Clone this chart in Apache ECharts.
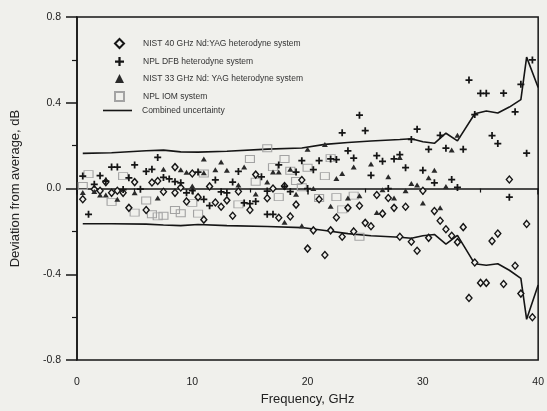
<!DOCTYPE html>
<html>
<head>
<meta charset="utf-8">
<script src="https://cdn.jsdelivr.net/npm/echarts@6/dist/echarts.min.js"></script>
<style>
  html, body { margin: 0; padding: 0; background: #f0f0ec; }
  #chart { width: 547px; height: 411px; }
</style>
</head>
<body>
<div id="chart"></div>
<script>
// NIST 40 GHz Nd:YAG heterodyne system
const nist40Freq = [0.5,1.5,2,2.5,3,3.5,4,4.5,5,6,6.5,7,7.5,8.5,8.5,9,9.5,10,10.5,11,11.5,12,12.5,13,13.5,14,15,15.5,16.5,17,17.5,18,18.5,19,19.5,20,20.5,21,21.5,22,22.5,23,23.5,24,24.5,25,25.5,26,26.5,27,27.5,28,28.5,29,29.5,30,30.5,31,31.5,32,32.5,33,33.5,34,34.5,35,35.5,36,36.5,37,37.5,38,38.5,39,39.5];
const nist40Dev = [-0.05,-0.003,-0.01,0.03,-0.02,-0.01,-0.02,-0.09,0.03,-0.10,0.028,0.035,-0.015,0.10,-0.02,0.005,-0.06,0.07,-0.04,-0.145,0.01,-0.065,-0.085,-0.055,-0.127,-0.014,-0.10,0.065,-0.045,0.0,-0.136,0.012,-0.13,-0.075,0.04,-0.28,-0.195,-0.05,-0.31,-0.195,-0.135,-0.225,-0.09,-0.20,-0.08,-0.16,-0.176,-0.03,-0.117,-0.044,-0.09,-0.225,-0.085,-0.248,-0.29,-0.01,-0.23,-0.105,-0.15,-0.19,-0.22,-0.25,-0.18,-0.51,-0.345,-0.44,-0.44,-0.245,-0.21,-0.445,0.042,-0.36,-0.49,-0.165,-0.60];

// NPL DFB heterodyne system
const dfbFreq = [0.5,1,1.5,2,2.5,3,3.5,4,4.5,5,5.5,6,6.5,7,7.5,8,8.5,9,9.5,10,10.5,11,11.5,12,12.5,13,13.5,14,14.5,15,15.5,16,16.5,16.5,17,17.5,18,18.5,19,19.5,20,20.5,21,22,22.5,23,23.5,24,24.5,25,25.5,26,26.5,27,27.5,28,28.5,29,29.5,30,30.5,31,31.5,32,32.5,33,33.5,34,34.5,35,35.5,36,36.5,37,37.5,38,38.5,39,39.5];
const dfbDev = [0.058,-0.12,0.02,0.06,0.035,0.10,0.10,-0.005,0.05,0.11,-0.003,0.08,0.09,0.145,0.052,0.045,0.032,0.027,-0.02,-0.01,0.077,-0.05,-0.08,0.04,-0.015,-0.02,0.03,0.08,-0.067,-0.07,-0.06,0.055,-0.12,-0.012,-0.12,0.11,0.01,-0.014,0.077,0.13,0.0,0.088,0.13,0.138,0.135,0.26,0.176,0.142,0.342,0.27,0.062,0.153,0.127,0.0,0.138,0.158,0.097,0.229,0.277,0.085,0.183,0.027,0.248,0.188,0.042,0.005,0.183,0.506,0.345,0.444,0.444,0.247,0.21,0.445,-0.04,0.358,0.486,0.165,0.60];

// NIST 33 GHz Nd:YAG heterodyne system
const nist33Freq = [0.5,1.5,2,2.5,3.5,5,7,7.5,9,9.5,10,11,11,12,12.5,13,14,14.5,15.5,16.5,17,17.5,18,18.5,19,19.5,20,20.5,21.5,22,22.5,23,23.5,24,24.5,25.5,26,26.5,27,27.5,28,28.5,29,29.5,30,30.5,31,31.5,32,32.5,33];
const nist33Dev = [-0.018,-0.014,-0.03,-0.03,-0.05,-0.02,-0.044,0.09,0.088,0.076,0.012,0.074,0.138,0.088,0.124,0.085,0.017,0.10,-0.025,0.03,0.077,0.077,-0.157,0.09,-0.026,-0.173,0.183,0.0,0.206,-0.082,0.047,0.07,-0.044,0.10,-0.033,0.115,-0.112,-0.006,0.055,-0.044,0.145,-0.01,0.024,0.017,-0.067,0.05,0.085,-0.09,0.01,0.18,0.248];

// NPL IOM system
const iomFreq = [0.5,1,3,4,5,6,6.5,7,7.5,8.5,9,10,10.5,11,14,15,15.5,16.5,17,17.5,18,18.5,19,19.5,20,21,21.5,22,22.5,23,24,24.5];
const iomDev = [0.012,0.067,-0.062,0.058,-0.112,-0.056,-0.12,-0.13,-0.127,-0.10,-0.115,-0.067,-0.117,0.07,-0.074,0.138,0.032,0.188,0.10,-0.04,0.138,0.083,0.035,0.006,0.097,-0.044,0.058,0.142,-0.04,-0.097,-0.033,-0.225];

// Combined uncertainty envelope
const uncFreq  = [0.5,3,6,7.5,9,10.5,13,16.5,19.5,21.5,23.5,25.5,28,29,30,31,32,33,34.5,35.5,36.5,37.5,38.5,39,40];
const uncUpper = [0.164,0.167,0.176,0.179,0.171,0.170,0.174,0.184,0.189,0.206,0.215,0.222,0.229,0.232,0.218,0.211,0.258,0.222,0.349,0.362,0.352,0.38,0.415,0.613,0.471];
const uncLower = [-0.164,-0.164,-0.166,-0.170,-0.173,-0.168,-0.173,-0.177,-0.182,-0.196,-0.21,-0.22,-0.227,-0.232,-0.22,-0.214,-0.259,-0.218,-0.351,-0.358,-0.351,-0.381,-0.419,-0.61,-0.45];

const names = [
  'NIST 40 GHz Nd:YAG heterodyne system',
  'NPL DFB heterodyne system',
  'NIST 33 GHz Nd: YAG heterodyne system',
  'NPL IOM system',
  'Combined uncertainty'
];

const pairs = (xs, ys) => xs.map((x, i) => [x, ys[i]]);
const ink = '#151515';
const bg = '#f0f0ec';
const font = 'Liberation Sans, Arial, Helvetica, sans-serif';
const plusPath = 'path://M3,0H5V3H8V5H5V8H3V5H0V3H3Z';
const legendText = { fontSize: 8.5, color: '#333', fontFamily: font };

const chart = echarts.init(document.getElementById('chart'), null, { renderer: 'canvas' });

chart.setOption({
  backgroundColor: bg,
  animation: false,
  textStyle: { fontFamily: font },
  grid: {
    left: 77, right: 6, top: 17, bottom: 43,
    show: true, borderColor: ink, borderWidth: 1.5, backgroundColor: 'transparent'
  },
  legend: [
    {
      // marker entries
      orient: 'vertical',
      left: 114, top: 38, padding: 0,
      itemWidth: 9, itemHeight: 9, itemGap: 8,
      textStyle: Object.assign({ padding: [0, 0, 0, 14] }, legendText),
      data: [
        { name: names[0], itemStyle: { borderWidth: 2 } },
        { name: names[1] },
        { name: names[2] },
        { name: names[3] }
      ]
    },
    {
      // envelope entry
      orient: 'vertical',
      left: 103, top: 106, padding: 0,
      itemWidth: 29, itemHeight: 1.6,
      textStyle: Object.assign({ padding: [0, 0, 0, 5] }, legendText),
      data: [{ name: names[4], icon: 'rect' }]
    }
  ],
  xAxis: {
    type: 'value', min: 0, max: 40, interval: 10,
    name: 'Frequency, GHz', nameLocation: 'middle', nameGap: 30,
    nameTextStyle: { fontSize: 13, color: '#222' },
    axisLine: { lineStyle: { color: ink, width: 1.5 } },
    axisTick: { length: 6, lineStyle: { color: ink, width: 1.5 } },
    minorTick: { show: true, splitNumber: 2, length: 4, lineStyle: { color: ink, width: 1.2 } },
    axisLabel: { fontSize: 10.5, color: '#222', margin: 17 },
    splitLine: { show: false }
  },
  yAxis: {
    type: 'value', min: -0.8, max: 0.8, interval: 0.4,
    name: 'Deviation from average, dB', nameLocation: 'middle', nameGap: 55,
    nameTextStyle: { fontSize: 13, color: '#222' },
    axisLine: { lineStyle: { color: ink, width: 1.5 } },
    axisTick: { length: 11, lineStyle: { color: ink, width: 1.5 } },
    minorTick: { show: true, splitNumber: 2, length: 5, lineStyle: { color: ink, width: 1.2 } },
    axisLabel: { fontSize: 10.5, color: '#222', margin: 16, formatter: v => v.toFixed(1) },
    splitLine: { show: false }
  },
  series: [
    {
      name: names[0], type: 'scatter', z: 4,
      symbol: 'diamond', symbolSize: [6, 7],
      itemStyle: { color: bg, borderColor: ink, borderWidth: 1.4, opacity: 1 },
      data: pairs(nist40Freq, nist40Dev)
    },
    {
      name: names[1], type: 'scatter', z: 4,
      symbol: plusPath, symbolSize: 7,
      itemStyle: { color: ink, opacity: 1 },
      data: pairs(dfbFreq, dfbDev)
    },
    {
      name: names[2], type: 'scatter', z: 4,
      symbol: 'triangle', symbolSize: [6, 5],
      itemStyle: { color: '#2a2a2a', opacity: 1 },
      data: pairs(nist33Freq, nist33Dev)
    },
    {
      name: names[3], type: 'scatter', z: 3,
      symbol: 'rect', symbolSize: [9, 7],
      itemStyle: { color: 'rgba(0,0,0,0)', borderColor: '#a3a3a3', borderWidth: 1, opacity: 1 },
      data: pairs(iomFreq, iomDev)
    },
    {
      name: names[4], type: 'line', z: 2,
      symbol: 'none',
      lineStyle: { color: ink, width: 1.6 },
      itemStyle: { color: ink },
      data: pairs(uncFreq, uncUpper)
    },
    {
      name: names[4], type: 'line', z: 2,
      symbol: 'none',
      lineStyle: { color: ink, width: 1.6 },
      itemStyle: { color: ink },
      data: pairs(uncFreq, uncLower)
    }
  ]
});
</script>
</body>
</html>
